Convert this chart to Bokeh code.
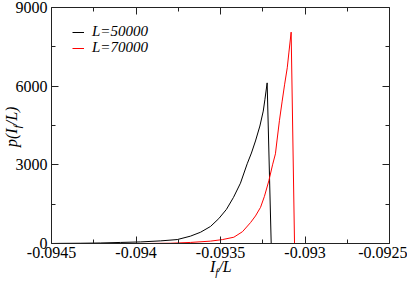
from bokeh.plotting import figure
from bokeh.models import (FixedTicker, CustomJSTickFormatter, LinearAxis, Range1d,
                          Legend, LegendItem, Div)
from bokeh.layouts import column, row
from bokeh.embed import file_html
from bokeh.resources import INLINE

# ---- data ----
x_ticks = [-0.0945, -0.094, -0.0935, -0.093, -0.0925]
x_minor = [-0.09425, -0.09375, -0.09325, -0.09275]
y_ticks = [0, 3000, 6000, 9000]
y_minor = [1500, 4500, 7500]

series_names = ["L=50000", "L=70000"]
x_title = "<i>I<sub style='font-size:11px'>f</sub>/L</i>"
y_title = "<i>p(I<sub style='font-size:11px'>f</sub>/L)</i>"

black_x = [-0.09450, -0.094447, -0.094328, -0.09421, -0.094092, -0.093973, -0.093855,
           -0.093756, -0.093678, -0.093618, -0.093559, -0.09351, -0.093465, -0.093423,
           -0.093382, -0.093342, -0.093317, -0.093293, -0.093267, -0.093247, -0.093237,
           -0.093224, -0.0932]
black_y = [0, 5, 10, 20, 40, 60, 100, 150, 280, 430, 650, 950, 1300, 1760, 2300, 3040,
           3450, 3910, 4480, 5050, 5500, 6125, 0]

red_x = [-0.09400, -0.093914, -0.093796, -0.093678, -0.093559, -0.093488, -0.093421,
         -0.09337, -0.093322, -0.093293, -0.093263, -0.09324, -0.093214, -0.093192,
         -0.093175, -0.093166, -0.093151, -0.093135, -0.093121, -0.093105, -0.093095,
         -0.093082, -0.093062]
red_y = [0, 2, 10, 40, 90, 150, 240, 450, 800, 1050, 1380, 1800, 2390, 3000, 3420,
         3910, 4700, 5430, 6050, 6700, 7300, 8060, 0]

FONT = "Liberation Serif"
FS = "16px"

p = figure(width=407, height=273, output_backend="svg", toolbar_location=None,
           x_range=Range1d(-0.0945, -0.0925), y_range=Range1d(0, 9000),
           x_axis_location=None, y_axis_location=None,
           min_border_left=51, min_border_right=18, min_border_top=7,
           min_border_bottom=30, background_fill_color="white",
           border_fill_color="white")
p.outline_line_color = None
p.xgrid.visible = False
p.ygrid.visible = False

fmt = CustomJSTickFormatter(code="return String(Number(tick.toFixed(4)))")
blank = CustomJSTickFormatter(code="return ''")

bottom = LinearAxis(ticker=FixedTicker(ticks=x_ticks, minor_ticks=x_minor), formatter=fmt)
top = LinearAxis(ticker=FixedTicker(ticks=x_ticks, minor_ticks=x_minor), formatter=blank)
left = LinearAxis(ticker=FixedTicker(ticks=y_ticks, minor_ticks=y_minor))
right = LinearAxis(ticker=FixedTicker(ticks=y_ticks, minor_ticks=y_minor), formatter=blank)
p.add_layout(bottom, "below")
p.add_layout(top, "above")
p.add_layout(left, "left")
p.add_layout(right, "right")

for ax in [bottom, top, left, right]:
    ax.axis_line_color = "#222222"
    ax.axis_line_width = 1
    ax.major_tick_in = 7
    ax.major_tick_out = 0
    ax.minor_tick_in = 4
    ax.minor_tick_out = 0
    ax.major_tick_line_color = "#222222"
    ax.minor_tick_line_color = "#222222"
    ax.major_label_text_font = FONT
    ax.major_label_text_font_size = FS
    ax.major_label_text_color = "black"

bottom.major_label_standoff = 3
left.major_label_standoff = 4
top.major_label_standoff = 0
right.major_label_standoff = 0

r1 = p.line(black_x, black_y, line_color="black", line_width=1)
r2 = p.line(red_x, red_y, line_color="red", line_width=1)

for name, rend, loc in [(series_names[0], r1, (21, 203)), (series_names[1], r2, (21, 187))]:
    lg = Legend(items=[LegendItem(label=name, renderers=[rend])],
                location=loc, padding=0, margin=0, spacing=0,
                glyph_width=12, glyph_height=12, label_height=12,
                label_standoff=8, border_line_color=None,
                background_fill_alpha=0, label_text_color="black",
                label_text_font=FONT, label_text_font_style="italic",
                label_text_font_size="15px")
    p.add_layout(lg, "center")

base_styles = {"font-family": FONT, "font-size": "16px", "line-height": "16px",
               "white-space": "nowrap", "color": "black"}

ydiv = Div(text=y_title, width=45, height=16, margin=(-126, 0, 0, 4),
           styles=dict(base_styles, **{"transform": "rotate(-90deg)",
                                       "transform-origin": "0 0"}))
xdiv = Div(text=x_title, width=40, height=16, margin=(-14, 0, 0, 161),
           styles=base_styles)

layout = column(p, row(ydiv, xdiv))

open("out.html", "w").write(file_html(layout, INLINE))
